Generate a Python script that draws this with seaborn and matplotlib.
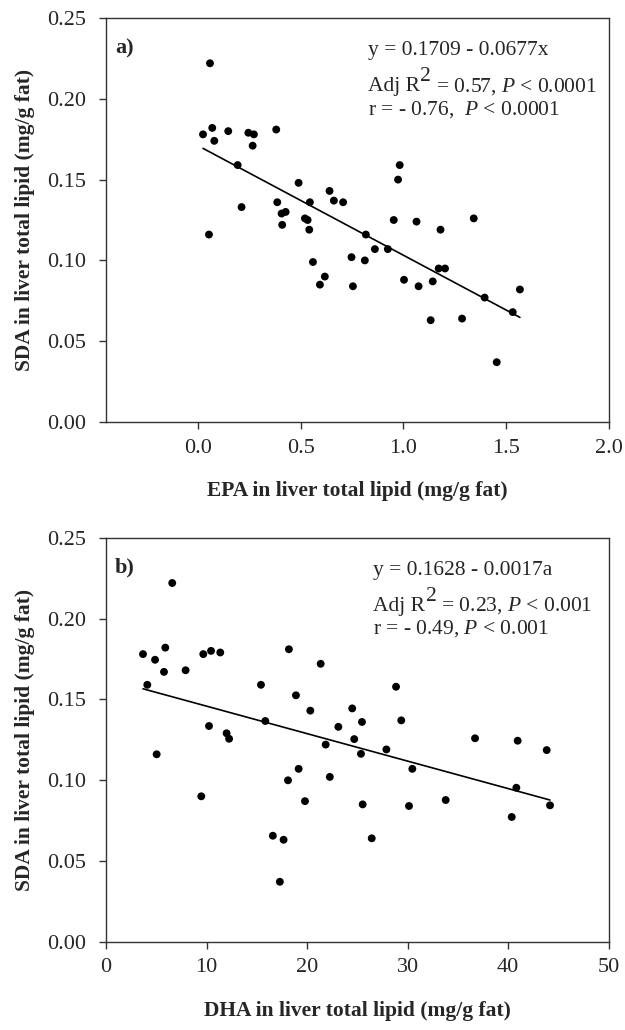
import numpy as np
import pandas as pd
import matplotlib
matplotlib.use("Agg")
import matplotlib.pyplot as plt
import matplotlib.transforms as mtransforms
import seaborn as sns

# Panel a: EPA vs SDA (liver total lipid, mg/g fat)
epa = [0.057, 0.023, 0.068, 0.078, 0.146, 0.244, 0.271, 0.265, 0.380, 0.192,
       0.489, 0.640, 0.661, 0.706, 0.385, 0.544, 0.211, 0.406, 0.426, 0.520,
       0.533, 0.409, 0.541, 0.052, 0.817, 0.559, 0.747, 0.812, 0.617, 0.593,
       0.754, 0.982, 0.974, 0.953, 1.064, 1.343, 1.181, 0.861, 0.924, 1.172,
       1.203, 1.003, 1.074, 1.143, 1.568, 1.396, 1.533, 1.133, 1.286, 1.455]
sda_epa = [0.222, 0.178, 0.182, 0.174, 0.180, 0.179, 0.178, 0.171, 0.181, 0.159,
           0.148, 0.143, 0.137, 0.136, 0.136, 0.136, 0.133, 0.129, 0.130, 0.126,
           0.125, 0.122, 0.119, 0.116, 0.116, 0.099, 0.102, 0.100, 0.090, 0.085,
           0.084, 0.159, 0.150, 0.125, 0.124, 0.126, 0.119, 0.107, 0.107, 0.095,
           0.095, 0.088, 0.084, 0.087, 0.082, 0.077, 0.068, 0.063, 0.064, 0.037]

# Panel b: DHA vs SDA
dha = [6.59, 3.68, 4.88, 5.90, 5.77, 4.11, 7.92, 9.68, 10.45, 11.37,
       18.20, 21.36, 15.42, 18.90, 20.33, 24.50, 25.47, 23.12, 15.85, 10.25,
       12.00, 12.25, 5.04, 9.48, 24.70, 21.86, 25.37, 19.17, 18.11, 22.27,
       19.80, 25.54, 16.60, 17.67, 17.30, 26.44, 28.86, 29.38, 36.72, 40.96,
       43.85, 27.90, 30.48, 30.15, 33.80, 40.83, 44.18, 40.37]
sda_dha = [0.222, 0.178, 0.1745, 0.182, 0.167, 0.159, 0.168, 0.178, 0.180, 0.179,
           0.181, 0.172, 0.159, 0.1525, 0.143, 0.1444, 0.136, 0.133, 0.1366, 0.1335,
           0.129, 0.1256, 0.116, 0.090, 0.1254, 0.122, 0.1163, 0.107, 0.0999, 0.102,
           0.087, 0.085, 0.0656, 0.0631, 0.0371, 0.064, 0.1578, 0.137, 0.1259, 0.1244,
           0.1186, 0.119, 0.107, 0.084, 0.0877, 0.0953, 0.0844, 0.0772]

# regression equations printed on the panels
fit_a = (0.1709, -0.0677)
fit_b = (0.1628, -0.0017)

eq_a = "y = 0.1709 - 0.0677x"
r2_a = r" = 0.57, $P$ < 0.0001"
r_a = r"r = - 0.76,  $P$ < 0.0001"
eq_b = "y = 0.1628 - 0.0017a"
r2_b = r" = 0.23, $P$ < 0.001"
r_b = r"r = - 0.49, $P$ < 0.001"

yticks = [0.00, 0.05, 0.10, 0.15, 0.20, 0.25]
ylabel = "SDA in liver total lipid (mg/g fat)"

sns.set_theme(style="ticks")
plt.rcParams["font.family"] = ["Liberation Serif", "DejaVu Serif"]
plt.rcParams["mathtext.fontset"] = "custom"
plt.rcParams["mathtext.rm"] = "Liberation Serif"
plt.rcParams["mathtext.it"] = "Liberation Serif:italic"
plt.rcParams["mathtext.bf"] = "Liberation Serif:bold"

FS = 15.5


def stats_text(fig, ax, x, eq, r2, rtxt):
    # equation, adjusted R^2 (with a full-size raised "2") and r
    ax.text(x, 0.908, eq, transform=ax.transAxes, fontsize=FS, va="baseline")
    ax.text(x, 0.762, rtxt, transform=ax.transAxes, fontsize=FS, va="baseline")
    t1 = ax.text(x, 0.819, "Adj R", transform=ax.transAxes, fontsize=FS,
                 va="baseline")
    renderer = fig.canvas.get_renderer()
    w1 = t1.get_window_extent(renderer).width * 72 / fig.dpi
    sup = ax.text(x, 0.819, "2", fontsize=FS, va="baseline",
                  transform=mtransforms.offset_copy(ax.transAxes, fig,
                                                    x=w1 + 0.5, y=7,
                                                    units="points"))
    w2 = sup.get_window_extent(renderer).width * 72 / fig.dpi
    ax.text(x, 0.819, r2, fontsize=FS, va="baseline",
            transform=mtransforms.offset_copy(ax.transAxes, fig,
                                              x=w1 + w2 + 0.5, y=0,
                                              units="points"))


def draw_panel(fig, ax, x, y, fit, letter, stats, text_x, xlabel, xlim, xticks, xfmt):
    df = pd.DataFrame({"x": x, "y": y})
    sns.scatterplot(data=df, x="x", y="y", ax=ax, color="black", s=32,
                    edgecolor="none", zorder=3)
    xs = np.array([df["x"].min(), df["x"].max()])
    line = pd.DataFrame({"x": xs, "y": fit[0] + fit[1] * xs})
    sns.lineplot(data=line, x="x", y="y", ax=ax, color="black", lw=1.2)

    ax.set_xlim(*xlim)
    ax.set_ylim(0, 0.25)
    ax.set_xticks(xticks)
    ax.set_xticklabels([xfmt.format(t) for t in xticks])
    ax.set_yticks(yticks)
    ax.set_yticklabels([f"{t:.2f}" for t in yticks])
    ax.tick_params(axis="both", direction="out", length=5, width=1,
                   color="#333333", labelsize=16)
    ax.tick_params(axis="x", pad=7)
    ax.tick_params(axis="y", pad=9)
    for sp in ax.spines.values():
        sp.set_visible(True)
        sp.set_color("#333333")
        sp.set_linewidth(1.0)

    ax.set_xlabel(xlabel, fontsize=FS, fontweight="bold", labelpad=17)
    ax.set_ylabel(ylabel, fontsize=FS, fontweight="bold", labelpad=9)

    ax.text(0.018, 0.913, letter, transform=ax.transAxes, fontsize=16,
            fontweight="bold", va="baseline")
    stats_text(fig, ax, text_x, *stats)


fig = plt.figure(figsize=(6.25, 10.3), dpi=100)
ax_a = fig.add_axes([0.1696, 0.5903, 0.804, 0.3922])
ax_b = fig.add_axes([0.1696, 0.0857, 0.804, 0.3922])

draw_panel(fig, ax_a, epa, sda_epa, fit_a, "a)", (eq_a, r2_a, r_a), 0.521,
           "EPA in liver total lipid (mg/g fat)", (-0.45, 2.0),
           [0.0, 0.5, 1.0, 1.5, 2.0], "{:.1f}")
draw_panel(fig, ax_b, dha, sda_dha, fit_b, "b)", (eq_b, r2_b, r_b), 0.531,
           "DHA in liver total lipid (mg/g fat)", (0, 50),
           [0, 10, 20, 30, 40, 50], "{:d}")

fig.savefig("out.png", dpi=100)
